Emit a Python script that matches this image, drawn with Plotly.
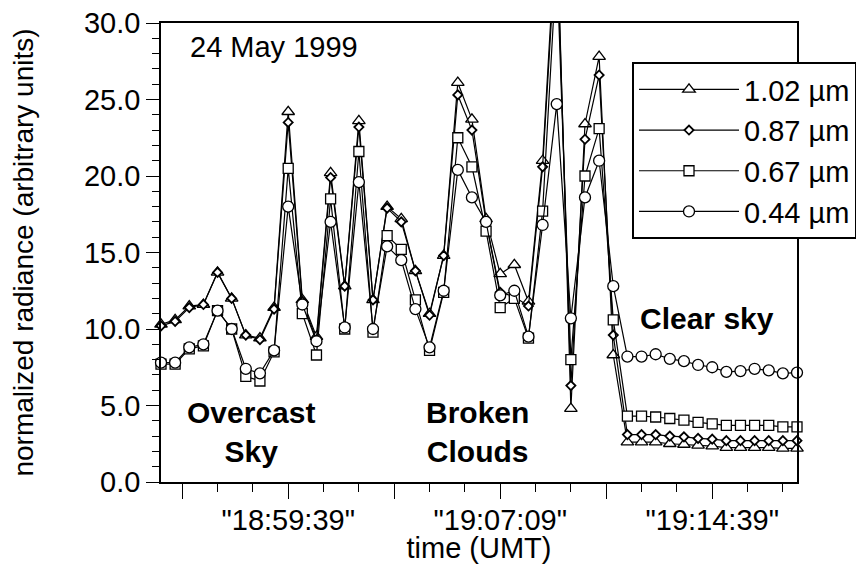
import plotly.graph_objects as go

# sample index (30 s steps); index 9 = "18:59:39"
idx = list(range(46))

r102 = [10.3, 10.6, 11.5, 11.6, 13.7, 12.0, 9.6, 9.4, 11.4, 24.2,
        11.9, 9.5, 20.2, 12.8, 23.6, 11.9, 18.0, 17.2, 13.8, 11.0,
        14.8, 26.1, 23.7, 17.2, 13.6, 14.2, 11.8, 21.0, 37.0, 4.8,
        23.4, 27.8, 8.3, 2.6, 2.6, 2.6, 2.5, 2.45, 2.4, 2.35,
        2.25, 2.25, 2.25, 2.25, 2.2, 2.2]
r087 = [10.2, 10.5, 11.4, 11.6, 13.7, 12.0, 9.6, 9.3, 11.3, 23.5,
        11.8, 9.3, 19.9, 12.8, 23.2, 11.9, 17.9, 17.0, 13.8, 10.9,
        14.8, 25.3, 23.0, 17.0, 12.4, 12.1, 11.5, 20.6, 36.0, 6.3,
        22.4, 26.6, 9.6, 3.1, 3.1, 3.1, 3.0, 2.95, 2.85, 2.8,
        2.7, 2.7, 2.7, 2.7, 2.7, 2.7]
r067 = [7.7, 7.7, 8.7, 8.9, 11.2, 10.0, 6.9, 6.6, 8.5, 20.5,
        11.0, 8.3, 18.5, 10.0, 21.6, 9.8, 16.1, 15.2, 11.9, 8.6,
        12.4, 22.5, 20.6, 16.4, 11.4, 12.0, 9.4, 17.7, 34.0, 8.0,
        20.0, 23.1, 10.6, 4.3, 4.3, 4.25, 4.15, 4.05, 3.9, 3.8,
        3.7, 3.7, 3.7, 3.7, 3.6, 3.6]
r044 = [7.8, 7.8, 8.8, 9.0, 11.2, 10.0, 7.4, 7.1, 8.6, 18.0,
        11.6, 9.2, 17.0, 10.1, 19.6, 10.0, 15.4, 14.5, 11.3, 8.8,
        12.5, 20.4, 18.6, 17.0, 12.2, 12.5, 9.5, 16.8, 24.7, 10.7,
        18.6, 21.0, 12.8, 8.2, 8.2, 8.35, 8.05, 7.9, 7.65, 7.5,
        7.2, 7.25, 7.4, 7.3, 7.1, 7.15]

series_names = ["1.02 \u00b5m", "0.87 \u00b5m", "0.67 \u00b5m", "0.44 \u00b5m"]
series_vals = [r102, r087, r067, r044]
symbols = ["triangle-up", "diamond", "square", "circle"]
sizes = [11, 7, 10, 11]
outline = [1.3, 1.8, 1.3, 1.3]

major_tick_pos = [1.5, 9, 16.5, 24, 31.5, 39]
major_tick_text = ["", '"18:59:39"', "", '"19:07:09"', "", '"19:14:39"']

FONT = "Liberation Sans, Arial, Helvetica, sans-serif"
FS = 29

# page body has an 8px margin: figure is 856x556 placed at (8, 8)
W, H = 856, 556
ML, MT = 153, 15
PW, PH = 636, 459


def px_x(p):
    return (p - 8 - ML) / PW


def px_y(p):
    return 1 - (p - 8 - MT) / PH


fig = go.Figure()
for name, vals, sym, sz, ow in zip(series_names, series_vals, symbols, sizes, outline):
    fig.add_trace(go.Scatter(
        x=idx, y=vals, name=name, mode="lines+markers",
        line=dict(color="black", width=1.2),
        marker=dict(symbol=sym, size=sz, color="white", line=dict(color="black", width=ow)),
        cliponaxis=False,
    ))

fig.update_layout(
    template="none",
    width=W, height=H,
    margin=dict(l=ML, r=W - ML - PW, t=MT, b=H - MT - PH, autoexpand=False),
    paper_bgcolor="white", plot_bgcolor="white",
    font=dict(family=FONT, size=FS, color="black"),
    showlegend=True,
    legend=dict(
        x=px_x(632), y=px_y(62), xanchor="left", yanchor="top",
        bgcolor="white", bordercolor="black", borderwidth=2,
        font=dict(size=29), itemwidth=100, tracegroupgap=0,
    ),
    xaxis=dict(
        range=[0, 45], showgrid=False, zeroline=False, automargin=False,
        showline=True, linecolor="black", linewidth=1.5, mirror=True,
        ticks="outside", ticklen=15, tickwidth=1.3, tickcolor="black",
        tickvals=major_tick_pos, ticktext=major_tick_text,
        ticklabelstandoff=-4, ticklabeloverflow="allow",
        minor=dict(tick0=1.5, dtick=2.5, ticks="outside", ticklen=8,
                   tickwidth=1.2, tickcolor="black", showgrid=False),
        title=dict(text="time (UMT)", font=dict(size=FS), standoff=2),
    ),
    yaxis=dict(
        range=[0, 30], showgrid=False, zeroline=False, automargin=False,
        showline=True, linecolor="black", linewidth=1.5, mirror=True,
        ticks="outside", ticklen=13, tickwidth=1.3, tickcolor="black",
        tick0=0, dtick=5, tickformat=".1f", ticklabeloverflow="allow",
        minor=dict(dtick=1, ticks="outside", ticklen=7, tickwidth=1.2,
                   tickcolor="black", showgrid=False),
        title=dict(text="normalized radiance (arbitrary units)", font=dict(size=28), standoff=42),
    ),
)

# drop shadow behind the legend box
fig.add_shape(type="rect", xref="paper", yref="paper",
              x0=px_x(637), x1=px_x(863), y0=px_y(67), y1=px_y(238),
              fillcolor="black", line=dict(width=0), layer="above")

annots = [
    dict(x=1.9, y=28.4, text="24 May 1999", xanchor="left", font=dict(size=FS)),
    dict(x=6.37, y=3.3, text="<b>Overcast<br>Sky</b>", font=dict(size=30)),
    dict(x=22.4, y=3.3, text="<b>Broken<br>Clouds</b>", font=dict(size=30)),
    dict(x=38.6, y=10.7, text="<b>Clear sky</b>", font=dict(size=30)),
]
for a in annots:
    fig.add_annotation(xref="x", yref="y", showarrow=False, **a)

fig.write_html("out.html")
